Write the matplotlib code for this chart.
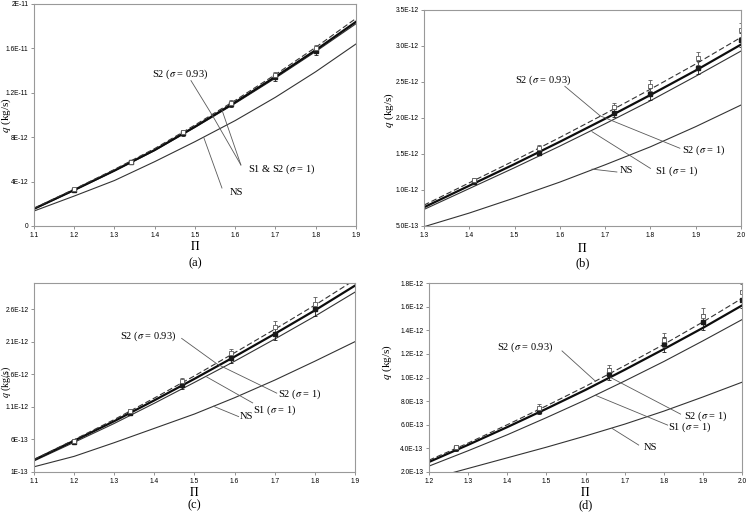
import matplotlib
matplotlib.use("Agg")
import matplotlib.pyplot as plt

plt.rcParams["mathtext.fontset"] = "stix"
SERIF = "Liberation Serif"
SANS = "Liberation Sans"
W, H = 750, 520

# all flow rates in units of 1E-12 kg/s
# panel (a)
a_pi = [1.1, 1.2, 1.3, 1.4, 1.5, 1.6, 1.7, 1.8, 1.9]
a_ns = [1.35, 2.7, 4.1, 5.8, 7.6, 9.5, 11.6, 13.9, 16.4]
a_s1 = [1.52, 3.2, 4.95, 6.8, 8.88, 11.05, 13.33, 15.72, 18.22]
a_s2 = [1.55, 3.25, 5.0, 6.85, 8.95, 11.15, 13.45, 15.85, 18.4]
a_s2b = [1.6, 3.32, 5.1, 6.98, 9.1, 11.32, 13.65, 16.1, 18.7]
a_exp_pi = [1.2, 1.34, 1.47, 1.59, 1.70, 1.80]
a_exp_1 = [3.24, 5.73, 8.35, 10.96, 13.39, 15.76]
a_exp_2 = [3.3, 5.8, 8.48, 11.12, 13.6, 16.0]
a_err = [0.1, 0.15, 0.2, 0.25, 0.3, 0.35]
a_ylim = (0, 20)
a_yticks = [0, 4, 8, 12, 16, 20]
a_ylabels = ["0", "4E-12", "8E-12", "1.2E-11", "1.6E-11", "2E-11"]
a_xticks = [1.1, 1.2, 1.3, 1.4, 1.5, 1.6, 1.7, 1.8, 1.9]

# panel (b)
b_pi = [1.3, 1.4, 1.5, 1.6, 1.7, 1.8, 1.9, 2.0]
b_ns = [0.49, 0.68, 0.89, 1.11, 1.35, 1.6, 1.88, 2.18]
b_s1 = [0.73, 1.02, 1.31, 1.61, 1.92, 2.24, 2.58, 2.93]
b_s2 = [0.76, 1.06, 1.36, 1.67, 1.99, 2.32, 2.66, 3.02]
b_s2b = [0.79, 1.1, 1.41, 1.73, 2.06, 2.4, 2.75, 3.12]
b_exp_pi = [1.41, 1.555, 1.72, 1.80, 1.905, 2.0]
b_exp_1 = [1.11, 1.52, 2.07, 2.33, 2.70, 3.08]
b_exp_2 = [1.14, 1.58, 2.15, 2.45, 2.83, 3.22]
b_err = [0.03, 0.04, 0.06, 0.08, 0.09, 0.1]
b_ylim = (0.5, 3.5)
b_yticks = [0.5, 1.0, 1.5, 2.0, 2.5, 3.0, 3.5]
b_ylabels = ["5.0E-13", "1.0E-12", "1.5E-12", "2.0E-12", "2.5E-12", "3.0E-12", "3.5E-12"]
b_xticks = [1.3, 1.4, 1.5, 1.6, 1.7, 1.8, 1.9, 2.0]

# panel (c)
c_pi = [1.1, 1.2, 1.3, 1.4, 1.5, 1.6, 1.7, 1.8, 1.9]
c_ns = [0.18, 0.34, 0.55, 0.77, 0.99, 1.24, 1.51, 1.80, 2.10]
c_s1 = [0.27, 0.555, 0.845, 1.155, 1.475, 1.80, 2.14, 2.49, 2.86]
c_s2 = [0.285, 0.58, 0.88, 1.2, 1.53, 1.87, 2.22, 2.58, 2.96]
c_s2b = [0.29, 0.595, 0.905, 1.235, 1.575, 1.93, 2.29, 2.66, 3.05]
c_exp_pi = [1.2, 1.34, 1.47, 1.59, 1.70, 1.80]
c_exp_1 = [0.56, 1.0, 1.43, 1.85, 2.22, 2.6]
c_exp_2 = [0.58, 1.03, 1.49, 1.92, 2.32, 2.68]
c_err = [0.02, 0.03, 0.05, 0.07, 0.09, 0.1]
c_ylim = (0.1, 3.0)
c_yticks = [0.1, 0.6, 1.1, 1.6, 2.1, 2.6]
c_ylabels = ["1E-13", "6E-13", "1.1E-12", "1.6E-12", "2.1E-12", "2.6E-12"]
c_xticks = [1.1, 1.2, 1.3, 1.4, 1.5, 1.6, 1.7, 1.8, 1.9]

# panel (d)
d_pi = [1.2, 1.3, 1.4, 1.5, 1.6, 1.7, 1.8, 1.9, 2.0]
d_ns = [0.14, 0.23, 0.32, 0.41, 0.505, 0.605, 0.715, 0.835, 0.96]
d_s1 = [0.25, 0.38, 0.515, 0.66, 0.81, 0.97, 1.135, 1.31, 1.49]
d_s2 = [0.285, 0.43, 0.58, 0.735, 0.895, 1.065, 1.24, 1.42, 1.61]
d_s2b = [0.30, 0.445, 0.60, 0.76, 0.925, 1.10, 1.28, 1.47, 1.67]
d_exp_pi = [1.27, 1.48, 1.66, 1.80, 1.90, 2.0]
d_exp_1 = [0.40, 0.72, 1.03, 1.28, 1.47, 1.66]
d_exp_2 = [0.41, 0.745, 1.06, 1.32, 1.52, 1.72]
d_err = [0.02, 0.03, 0.05, 0.06, 0.065, 0.07]
d_ylim = (0.2, 1.8)
d_yticks = [0.2, 0.4, 0.6, 0.8, 1.0, 1.2, 1.4, 1.6, 1.8]
d_ylabels = ["2.0E-13", "4.0E-13", "6.0E-13", "8.0E-13", "1.0E-12",
             "1.2E-12", "1.4E-12", "1.6E-12", "1.8E-12"]
d_xticks = [1.2, 1.3, 1.4, 1.5, 1.6, 1.7, 1.8, 1.9, 2.0]


def draw_panel(fig, box, curves, exp, xticks, ylim, yticks, ylabels, notes, tag, ylab):
    # box is (left, right, top, bottom) in pixels
    l, r, t, b = box
    ax = fig.add_axes([l / W, (H - b) / H, (r - l) / W, (b - t) / H])
    pi, ns, s1, s2, s2b = curves
    ax.plot(pi, ns, color="0.2", lw=0.8)
    ax.plot(pi, s1, color="0.2", lw=0.8)
    ax.plot(pi, s2, color="0.05", lw=1.6)
    ax.plot(pi, s2b, color="0.2", lw=0.8, dashes=(5, 2.5))
    epi, e1, e2, err = exp
    ax.errorbar(epi, e1, yerr=err, fmt="s", ms=2.4, color="0.1", mfc="0.1",
                elinewidth=0.6, capsize=1.5, capthick=0.6)
    ax.errorbar(epi, e2, yerr=err, fmt="s", ms=2.4, color="0.35", mfc="white",
                mew=0.6, elinewidth=0.6, capsize=1.5, capthick=0.6)
    ax.set_xlim(xticks[0], xticks[-1])
    ax.set_ylim(*ylim)
    ax.set_xticks(xticks)
    ax.set_xticklabels([str(v) for v in xticks])
    ax.set_yticks(yticks)
    ax.set_yticklabels(ylabels)
    for lab in ax.get_xticklabels() + ax.get_yticklabels():
        lab.set_fontfamily(SANS)
        lab.set_fontsize(4.8)
    ax.tick_params(direction="out", length=2.5, width=0.5, color="0.4", pad=1.5)
    for sp in ax.spines.values():
        sp.set_color("0.6")
        sp.set_linewidth(0.8)
    # labels with pointer lines
    for text, (tx, ty), segs in notes:
        ax.text(tx, ty, text, family=SERIF, fontsize=7.5, va="center", ha="left")
        for (x0, y0), (x1, y1) in segs:
            ax.plot([x0, x1], [y0, y1], color="0.35", lw=0.6, clip_on=False)
    cx = (l + r) / 2
    fig.text(ylab[0] / W, 1 - ylab[1] / H, "$q$ (kg/s)", family=SERIF,
             fontsize=ylab[2], rotation=90, ha="center", va="center")
    fig.text(cx / W, 1 - tag[0] / H, r"$\Pi$", fontsize=8.5, ha="center", va="center")
    fig.text(cx / W, 1 - tag[1] / H, tag[2], family=SERIF, fontsize=9,
             ha="center", va="center")
    return ax


fig = plt.figure(figsize=(7.5, 5.2), dpi=100)

S93 = r"S2 ($\sigma$ = 0.93)"
S21 = r"S2 ($\sigma$ = 1)"
S11 = r"S1 ($\sigma$ = 1)"

draw_panel(fig, (34, 356, 4, 226), (a_pi, a_ns, a_s1, a_s2, a_s2b),
           (a_exp_pi, a_exp_1, a_exp_2, a_err), a_xticks, a_ylim, a_yticks, a_ylabels,
           [(S93, (1.393, 13.7), [((1.49, 13.1), (1.545, 9.85))]),
            (r"S1 & S2 ($\sigma$ = 1)", (1.632, 5.14),
             [((1.614, 5.5), (1.545, 9.85)), ((1.614, 5.5), (1.567, 10.45))]),
            ("NS", (1.587, 3.06), [((1.567, 3.42), (1.522, 7.95))])],
           (247, 263, "(a)"), (6, 115, 8))

draw_panel(fig, (424, 741, 10, 226), (b_pi, b_ns, b_s1, b_s2, b_s2b),
           (b_exp_pi, b_exp_1, b_exp_2, b_err), b_xticks, b_ylim, b_yticks, b_ylabels,
           [(S93, (1.501, 2.53), [((1.611, 2.44), (1.689, 2.03))]),
            (S21, (1.870, 1.556), [((1.865, 1.58), (1.689, 2.03))]),
            (S11, (1.81, 1.264), [((1.80, 1.30), (1.671, 1.81))]),
            ("NS", (1.733, 1.264), [((1.726, 1.25), (1.671, 1.29))])],
           (248, 263, "(b)"), (389, 110, 8))

draw_panel(fig, (34, 355, 283, 472), (c_pi, c_ns, c_s1, c_s2, c_s2b),
           (c_exp_pi, c_exp_1, c_exp_2, c_err), c_xticks, c_ylim, c_yticks, c_ylabels,
           [(S93, (1.314, 2.19), [((1.468, 2.15), (1.558, 1.75))]),
            (S21, (1.708, 1.29), [((1.705, 1.31), (1.558, 1.75))]),
            (S11, (1.646, 1.05), [((1.645, 1.16), (1.53, 1.56))]),
            ("NS", (1.613, 0.948), [((1.61, 0.95), (1.547, 1.11))])],
           (492, 505, "(c)"), (6, 382, 7.2))

draw_panel(fig, (429, 742, 283, 472), (d_pi, d_ns, d_s1, d_s2, d_s2b),
           (d_exp_pi, d_exp_1, d_exp_2, d_err), d_xticks, d_ylim, d_yticks, d_ylabels,
           [(S93, (1.373, 1.26), [((1.54, 1.225), (1.625, 0.97))]),
            (S21, (1.851, 0.673), [((1.843, 0.69), (1.664, 1.0))]),
            (S11, (1.812, 0.575), [((1.81, 0.597), (1.625, 0.85))]),
            ("NS", (1.749, 0.41), [((1.736, 0.428), (1.668, 0.569))])],
           (492, 505, "(d)"), (387, 362, 8))

fig.savefig("out.png", dpi=100)
